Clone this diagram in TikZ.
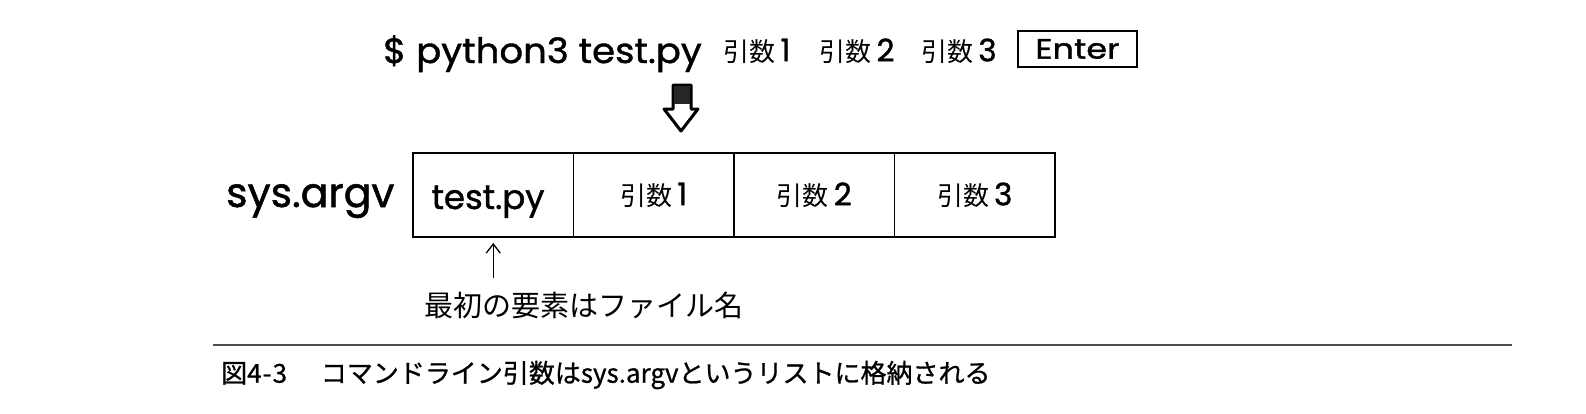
\documentclass[tikz,border=0pt]{standalone}
\usepackage{fontspec}
\setmainfont{Poppins}
\newfontfamily\hand[FakeBold=1.2]{Poppins}
\newfontfamily\handtop[FakeBold=1.2,FakeStretch=1.06]{Poppins}
\newfontfamily\handwide[FakeBold=1.2,FakeStretch=1.2]{Poppins}
\newfontfamily\jp{Noto Sans CJK JP}
\newfontfamily\jpcap[FakeBold=0.8]{Noto Sans CJK JP}
\usetikzlibrary{arrows.meta}
\newcommand{\hikisu}[1]{{\jp\fontsize{26}{26}\selectfont 引数}\hspace{5pt}{\hand\fontsize{31}{31}\selectfont #1}}
\begin{document}
\begin{tikzpicture}[x=1pt,y=-1pt,
  handtext/.style={font=\handtop\fontsize{35}{35}\selectfont, inner sep=0pt},
  cell/.style={draw, line width=1.5pt, minimum width=160.5pt, minimum height=84pt, inner sep=0pt, outer sep=0pt},
  jptext/.style={font=\jp\fontsize{29}{29}\selectfont, inner sep=0pt},
  captext/.style={font=\jpcap\fontsize{26}{26}\selectfont, inner sep=0pt},
  pointer/.style={line width=1.3pt, -{Straight Barb[length=9pt,width=14pt]}}
]
\useasboundingbox (0,0) rectangle (1586,413);

% command line
\node[handtext, anchor=base west] (cmd) at (383,63) {\$ python3 test.py};
\node[inner sep=0pt] (a1) at (757,51) {\hikisu{1}};
\node[inner sep=0pt] (a2) at (857,51) {\hikisu{2}};
\node[inner sep=0pt] (a3) at (959,51) {\hikisu{3}};
\node[draw, line width=1.3pt, minimum width=119pt, minimum height=36pt, inner sep=0pt,
      font=\handwide\fontsize{28}{28}\selectfont] (enter) at (1077.5,49) {Enter};

% block arrow
\draw[line width=3pt, line join=round, fill=white]
  (673,85) -- (691,85) -- (691,109) -- (698,109) -- (681,131) -- (664,109) -- (673,109) -- cycle;
\fill[black!85] (674,86) rectangle (690,104);

% argv list
\node[font=\hand\fontsize{41}{41}\selectfont, inner sep=0pt, anchor=base west] (argv) at (226,207) {sys.argv};
\node[cell] (c1) at (493.25,195) {};
\node[font=\hand\fontsize{34}{34}\selectfont, inner sep=0pt, anchor=base] (c1t) at (488,209) {test.py};
\node[cell] (c2) at (653.75,195) {\hikisu{1}};
\node[cell] (c3) at (814.25,195) {\hikisu{2}};
\node[cell] (c4) at (974.75,195) {\hikisu{3}};

% note
\node[jptext] (note) at (584,305) {最初の要素はファイル名};
\draw[pointer] ([yshift=13pt]note.north -| c1.south) -- ([yshift=-6pt]c1.south);

% caption
\coordinate (rl) at (213,345);
\coordinate (rr) at (1512,345);
\draw[line width=1.5pt, black!70] (rl) -- (rr);
\node[captext, anchor=west] (cap) at (221,375) {図4\hspace{1pt}-\hspace{1pt}3\hspace{1.3em}コマンドライン引数はsys.argvというリストに格納される};
\end{tikzpicture}
\end{document}
